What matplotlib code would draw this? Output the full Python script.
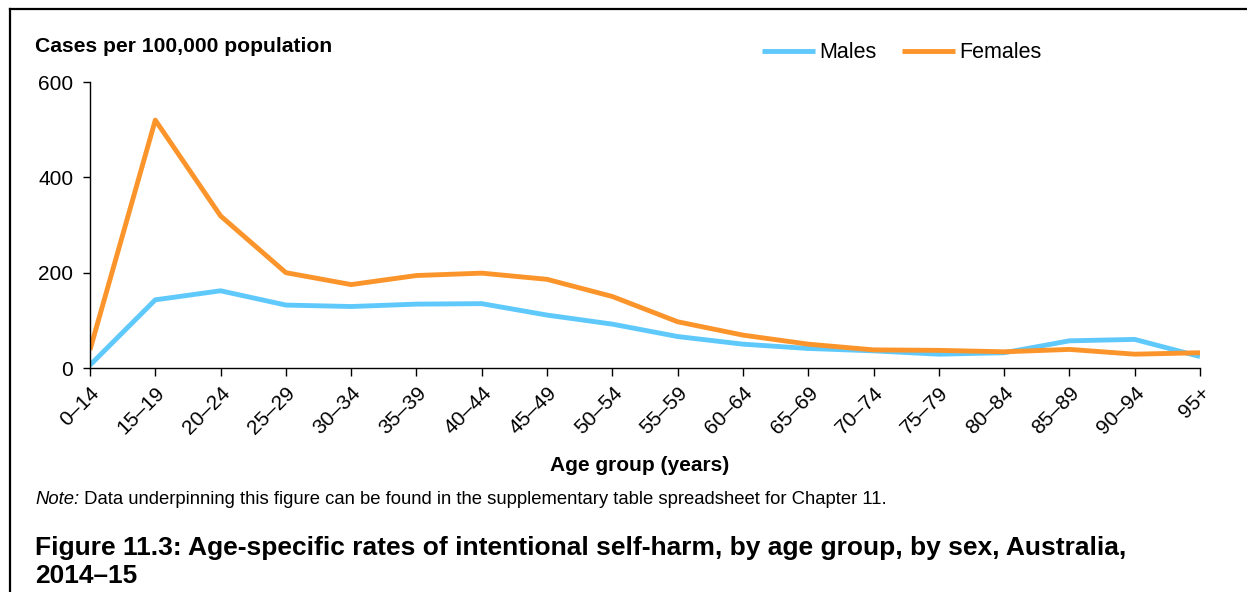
import matplotlib.pyplot as plt
from matplotlib.lines import Line2D

plt.rcParams['font.family'] = ['Liberation Sans', 'DejaVu Sans']

# age groups and rates (cases per 100,000)
age_groups = ["0–14", "15–19", "20–24", "25–29", "30–34", "35–39", "40–44",
              "45–49", "50–54", "55–59", "60–64", "65–69", "70–74", "75–79",
              "80–84", "85–89", "90–94", "95+"]
males = [6, 143, 162, 132, 129, 134, 135, 111, 92, 66, 50, 41, 36, 29, 32, 57, 60, 24]
females = [38, 520, 319, 200, 175, 194, 199, 186, 150, 97, 69, 50, 38, 37, 34, 39, 29, 32]

fig = plt.figure(figsize=(12.47, 5.92), dpi=100)
ax = fig.add_axes([90 / 1247, 1 - 368 / 592, 1110 / 1247, 286 / 592])

x = range(len(age_groups))
ax.plot(x, males, color="#5FC9FB", lw=3.5, label="Males", solid_capstyle="butt")
ax.plot(x, females, color="#FB952B", lw=3.5, label="Females", solid_capstyle="butt")

ax.set_xlim(0, len(age_groups) - 1)
ax.set_ylim(0, 600)
ax.set_yticks([0, 200, 400, 600])
ax.set_xticks(list(x))
ax.set_xticklabels(age_groups, rotation=45, ha="right", rotation_mode="anchor")
ax.tick_params(axis="y", labelsize=15, length=5, width=1, pad=7)
ax.tick_params(axis="x", labelsize=15, length=6, width=1, pad=5)
ax.spines["top"].set_visible(False)
ax.spines["right"].set_visible(False)
for s in ["left", "bottom"]:
    ax.spines[s].set_linewidth(1)

ax.set_xlabel("Age group (years)", fontsize=15, fontweight="bold")
ax.xaxis.set_label_coords((640 - 90) / 1110, -(456 - 368) / 286)

fig.text(35 / 1247, 1 - 47 / 592, "Cases per 100,000 population",
         fontsize=15.2, fontweight="bold", va="center")

fig.legend(loc="center", bbox_to_anchor=(902 / 1247, 1 - 53 / 592), ncol=2,
           frameon=False, fontsize=15.5, handlelength=2.45, handletextpad=0.2,
           columnspacing=1.2)

# note and caption
note = fig.text(35 / 1247, 1 - 500 / 592, "Note:", fontsize=13.3, style="italic",
                va="center")
ax.annotate(" Data underpinning this figure can be found in the supplementary "
            "table spreadsheet for Chapter 11.", xy=(1, 0.5), xycoords=note,
            va="center", ha="left", fontsize=13.3)
fig.text(35 / 1247, 1 - 562 / 592,
         "Figure 11.3: Age-specific rates of intentional self-harm, by age group, by sex, Australia,\n2014–15",
         fontsize=19, fontweight="bold", va="center", linespacing=1.2)

# frame lines (top and left)
fig.add_artist(Line2D([10 / 1247, 1], [1 - 9 / 592, 1 - 9 / 592], color="black",
                      lw=1.6, transform=fig.transFigure))
fig.add_artist(Line2D([10 / 1247, 10 / 1247], [1 - 9 / 592, 0], color="black",
                      lw=1.6, transform=fig.transFigure))

fig.savefig("out.png", dpi=100)
